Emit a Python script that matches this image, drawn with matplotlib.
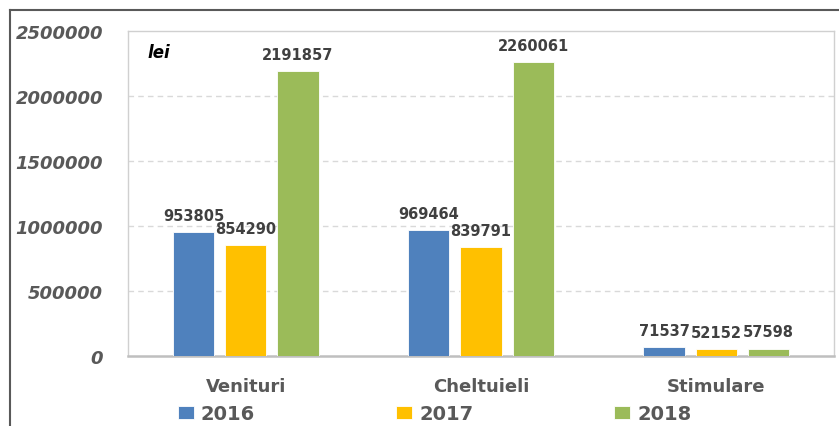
import matplotlib
matplotlib.use("Agg")
import matplotlib.pyplot as plt
import numpy as np
from matplotlib.lines import Line2D

categories = ["Venituri", "Cheltuieli", "Stimulare"]
years = ["2016", "2017", "2018"]
values_2016 = [953805, 969464, 71537]
values_2017 = [854290, 839791, 52152]
values_2018 = [2191857, 2260061, 57598]
ytick_values = [0, 500000, 1000000, 1500000, 2000000, 2500000]
ytick_labels = ["0", "500000", "1000000", "1500000", "2000000", "2500000"]
unit_label = "lei"

colors = ["#4F81BD", "#FFC000", "#9BBB59"]
series = [values_2016, values_2017, values_2018]

W, H = 839, 427
fig = plt.figure(figsize=(W / 100, H / 100), dpi=100)
ax = fig.add_axes([128 / W, (H - 357) / H, 706 / W, 325 / H])

x = np.arange(len(categories))
bar_w = 0.175
step = 0.222
bars = []
for i, (vals, col) in enumerate(zip(series, colors)):
    b = ax.bar(x + (i - 1) * step, vals, width=bar_w, color=col,
               edgecolor="white", linewidth=0.6, label=years[i], zorder=3)
    bars.append(b)
    for xi, v in zip(x + (i - 1) * step, vals):
        ax.annotate(f"{v}", (xi, v), xytext=(0, 12), textcoords="offset points",
                    ha="center", va="center", fontsize=10.5, fontweight="bold",
                    color="#404040", zorder=4)

ax.set_xlim(-0.5, 2.5)
ax.set_ylim(0, 2500000)
ax.set_yticks(ytick_values)
ax.set_yticklabels(ytick_labels, fontsize=13, fontweight="bold",
                   fontstyle="italic", color="#595959")
ax.set_xticks(x)
ax.set_xticklabels(categories, fontsize=13, fontweight="bold", color="#595959")
ax.tick_params(axis="y", length=0, pad=18)
ax.tick_params(axis="x", length=0, pad=15)

for yv in ytick_values[1:-1]:
    ax.axhline(yv, color="#D9D9D9", linestyle=(0, (4, 3)), linewidth=1.0, zorder=1)

for side in ["left", "top", "right"]:
    ax.spines[side].set_color("#D0D0D0")
    ax.spines[side].set_linewidth(1.0)
ax.spines["bottom"].set_color("#BFBFBF")
ax.spines["bottom"].set_linewidth(1.8)

ax.text(0.027, 0.935, unit_label, transform=ax.transAxes, fontsize=12,
        fontweight="bold", fontstyle="italic", color="#000000", ha="left", va="center")

fs = 14
fpx = fs * 100 / 72
leg = fig.legend(handles=[b for b in bars], labels=years, ncol=3,
                 loc="center left", bbox_to_anchor=(178 / W, (H - 415) / H),
                 frameon=False, borderpad=0, borderaxespad=0,
                 handlelength=16 / fpx, handleheight=13 / fpx,
                 handletextpad=7 / fpx, columnspacing=141 / fpx,
                 prop={"size": fs, "weight": "bold"})
for t in leg.get_texts():
    t.set_color("#595959")

# outer chart frame
fig.add_artist(Line2D([10 / W, 10 / W], [0, (H - 11) / H], color="#595959", linewidth=1.5))
fig.add_artist(Line2D([10 / W, 1], [(H - 11) / H, (H - 11) / H], color="#595959", linewidth=1.5))

fig.savefig("out.png", dpi=100)
